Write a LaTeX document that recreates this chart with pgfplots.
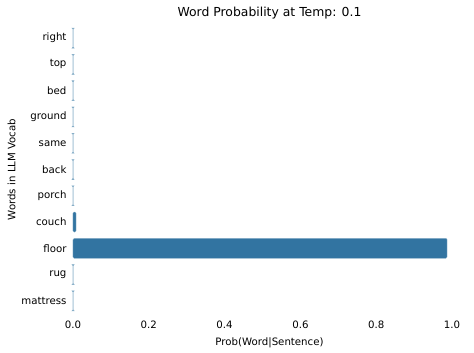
\documentclass[border=0pt]{standalone}
\usepackage{fontspec}
\setmainfont{DejaVu Sans}
\usepackage{pgfplots}
\pgfplotsset{compat=1.18}
\definecolor{sbblue}{RGB}{50,116,161}
\begin{document}
\begin{tikzpicture}
\begin{axis}[
  scale only axis,
  width=393pt, height=289pt,
  xbar, bar width=20pt,
  xmin=0, xmax=1.037,
  ymin=-0.5, ymax=10.5, y dir=reverse,
  ytick={0,...,10},
  yticklabels={right,top,bed,ground,same,back,porch,couch,floor,rug,mattress},
  xtick={0,0.2,0.4,0.6,0.8,1.0},
  xticklabels={0.0,0.2,0.4,0.6,0.8,1.0},
  axis line style={draw=none},
  major tick length=0pt,
  tick label style={font=\fontsize{10.2}{12}\selectfont},
  yticklabel style={xshift=-3pt},
  xticklabel style={yshift=-3pt},
  xlabel={Prob(Word|Sentence)},
  ylabel={Words in LLM Vocab},
  label style={font=\fontsize{10.2}{12}\selectfont},
  xlabel style={yshift=-3pt},
  ylabel style={yshift=-1pt},
  title={Word Probability at Temp: 0.1},
  title style={font=\fontsize{12.4}{14}\selectfont, yshift=-4pt},
  clip=false,
]
\addplot[fill=sbblue, draw=sbblue!55, line width=0.35pt, rounded corners=1.2pt] coordinates {
  (0.0003,0) (0.0003,1) (0.0003,2) (0.0003,3) (0.0003,4) (0.0003,5) (0.0003,6)
  (0.008,7) (0.987,8) (0.0003,9) (0.0003,10)
};
\end{axis}
\useasboundingbox ([xshift=-73pt,yshift=-39pt]current axis.south west) rectangle ([xshift=8pt,yshift=25pt]current axis.north east);
\end{tikzpicture}
\end{document}
